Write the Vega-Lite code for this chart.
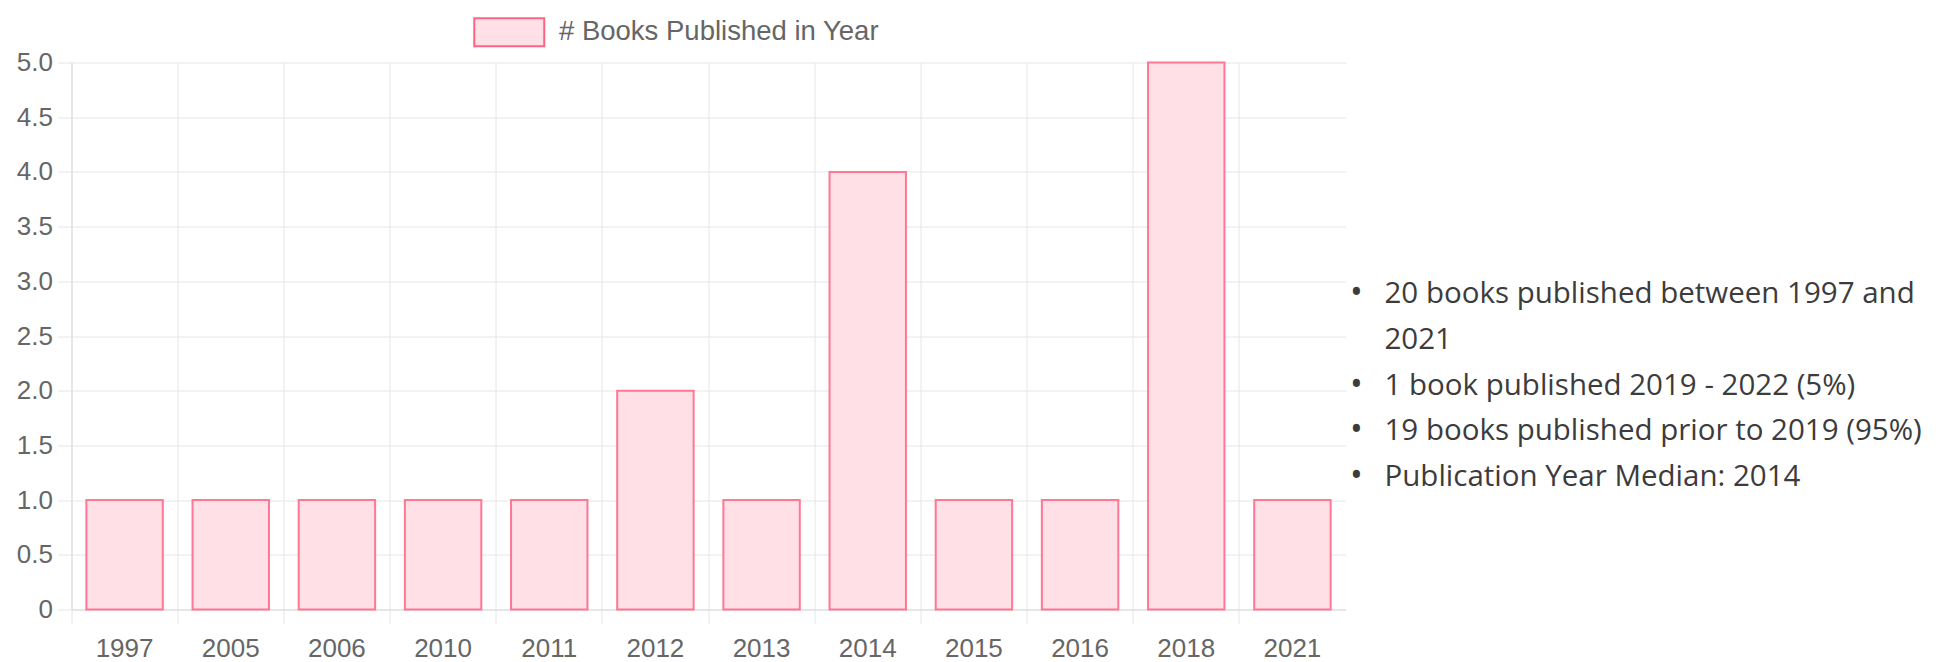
{
  "$schema": "https://vega.github.io/schema/vega-lite/v6.json",
  "padding": {"left": 15.5, "top": 18.5, "right": 5, "bottom": 0},
  "background": "white",
  "spacing": 8,
  "bounds": "flush",
  "config": {"view": {"stroke": null}, "font": "Liberation Sans"},
  "hconcat": [
    {
      "width": 1274,
      "height": 547,
      "data": {"values": [
        {"year": "1997", "count": 1},
        {"year": "2005", "count": 1},
        {"year": "2006", "count": 1},
        {"year": "2010", "count": 1},
        {"year": "2011", "count": 1},
        {"year": "2012", "count": 2},
        {"year": "2013", "count": 1},
        {"year": "2014", "count": 4},
        {"year": "2015", "count": 1},
        {"year": "2016", "count": 1},
        {"year": "2018", "count": 5},
        {"year": "2021", "count": 1}
      ]},
      "mark": {"type": "bar", "width": {"band": 0.72}, "stroke": "#ff6384", "strokeWidth": 2, "strokeOpacity": 0.85},
      "encoding": {
        "x": {
          "field": "year", "type": "ordinal", "sort": null,
          "scale": {"paddingInner": 0, "paddingOuter": 0},
          "axis": {
            "title": null, "bandPosition": 0, "labelOffset": 0, "grid": true,
            "gridColor": "#e6e6e6", "domainColor": "#d9d9d9", "tickColor": "#e6e6e6",
            "tickSize": 14, "labelPadding": 12, "labelFontSize": 26, "labelColor": "#666666", "labelAngle": 0
          }
        },
        "y": {
          "field": "count", "type": "quantitative",
          "scale": {"domain": [0, 5], "nice": false},
          "axis": {
            "title": null, "values": [0, 0.5, 1, 1.5, 2, 2.5, 3, 3.5, 4, 4.5, 5],
            "labelExpr": "datum.value == 0 ? '0' : format(datum.value, '.1f')",
            "gridColor": "#e6e6e6", "domainColor": "#d9d9d9", "tickColor": "#e6e6e6",
            "tickSize": 14, "labelPadding": 5, "labelFontSize": 26, "labelColor": "#666666"
          }
        },
        "color": {
          "datum": "# Books Published in Year",
          "scale": {"range": ["#ffe0e6"]},
          "legend": {
            "orient": "none", "legendX": 424, "legendY": -44, "title": null,
            "symbolType": "M-5,-2H5V2H-5Z", "symbolSize": 196,
            "symbolStrokeColor": "#ff6384", "symbolStrokeWidth": 2, "symbolOpacity": 1,
            "labelFontSize": 27.5, "labelColor": "#666666", "labelOffset": 36, "labelLimit": 0, "padding": 0
          }
        }
      }
    },
    {
      "width": 560,
      "height": 547,
      "data": {"values": [
        {"line": 1, "bullet": "•", "text": "20 books published between 1997 and"},
        {"line": 2, "bullet": "", "text": "2021"},
        {"line": 3, "bullet": "•", "text": "1 book published 2019 - 2022 (5%)"},
        {"line": 4, "bullet": "•", "text": "19 books published prior to 2019 (95%)"},
        {"line": 5, "bullet": "•", "text": "Publication Year Median: 2014"}
      ]},
      "encoding": {
        "y": {"field": "line", "type": "quantitative", "scale": {"domain": [-4.06, 7.896], "reverse": true, "nice": false, "zero": false}, "axis": null}
      },
      "layer": [
        {"mark": {"type": "text", "align": "center", "baseline": "middle", "fontSize": 34, "font": "Open Sans", "color": "#3c3c3c", "x": 3},
         "encoding": {"text": {"field": "bullet"}}},
        {"mark": {"type": "text", "align": "left", "baseline": "middle", "fontSize": 29.5, "font": "Open Sans", "color": "#3c3c3c", "x": 31},
         "encoding": {"text": {"field": "text"}}}
      ]
    }
  ]
}
